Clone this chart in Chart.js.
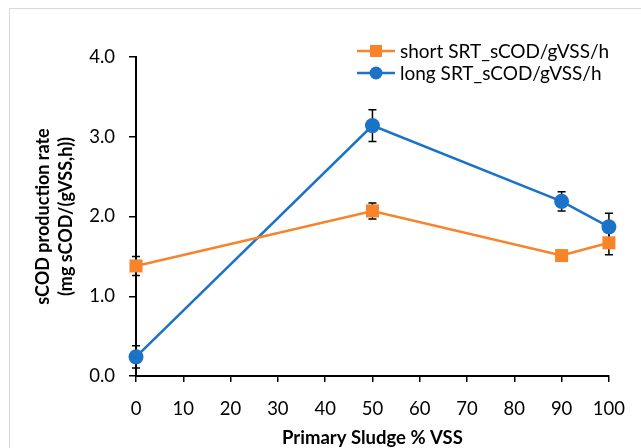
<!DOCTYPE html>
<html lang="en">
<head>
  <meta charset="UTF-8" />
  <title>sCOD production rate</title>
  <script src="https://cdn.jsdelivr.net/npm/chart.js"></script>
  <style>
    html, body {
      margin: 0;
      padding: 0;
      background-color: #fff;
      overflow: hidden;
    }
    .frame {
      position: absolute;
      left: 9px;
      top: 8px;
      width: 800px;
      height: 800px;
      border: 1px solid #d9d9d9;
    }
    .wrap {
      position: absolute;
      left: 0;
      top: 0;
      width: 641px;
      height: 448px;
    }
  </style>
</head>
<body>
  <div class="frame"></div>
  <div class="wrap"><canvas id="chart" width="641" height="448"></canvas></div>

  <script>
    // primary sludge fraction (% VSS)
    const sludgePct = [0, 50, 90, 100];

    const shortSrt = [1.38, 2.07, 1.51, 1.67];
    const shortSrtErr = [0.12, 0.10, 0.03, 0.15];

    const longSrt = [0.24, 3.14, 2.19, 1.87];
    const longSrtErr = [0.14, 0.20, 0.12, 0.17];

    const seriesNames = ['short SRT_sCOD/gVSS/h', 'long SRT_sCOD/gVSS/h'];

    const orange = '#F7832A';
    const blue = '#1B73C8';
    const fontFamily = "Lato, 'Noto Sans', sans-serif";

    function toPoints(xs, ys, errs) {
      return xs.map((x, i) => ({ x: x, y: ys[i], err: errs[i] }));
    }

    // black error bars with caps, drawn under the markers
    const errorBars = {
      id: 'errorBars',
      beforeDatasetsDraw(chart) {
        const ctx = chart.ctx;
        const yScale = chart.scales.y;
        const xScale = chart.scales.x;
        ctx.save();
        ctx.strokeStyle = '#000';
        ctx.lineWidth = 1.5;
        chart.data.datasets.forEach(ds => {
          ds.data.forEach(p => {
            const px = xScale.getPixelForValue(p.x);
            const top = yScale.getPixelForValue(p.y + p.err);
            const bot = yScale.getPixelForValue(p.y - p.err);
            ctx.beginPath();
            ctx.moveTo(px, top);
            ctx.lineTo(px, bot);
            ctx.moveTo(px - 4, top);
            ctx.lineTo(px + 4, top);
            ctx.moveTo(px - 4, bot);
            ctx.lineTo(px + 4, bot);
            ctx.stroke();
          });
        });
        ctx.restore();
      }
    };

    // Excel-like legend: line with marker, then text
    const lineLegend = {
      id: 'lineLegend',
      afterDraw(chart) {
        const ctx = chart.ctx;
        const x0 = 357, x1 = 395, tx = 400;
        const rows = [51, 73];
        ctx.save();
        ctx.font = '19px ' + fontFamily;
        ctx.textBaseline = 'middle';
        ctx.textAlign = 'left';
        chart.data.datasets.forEach((ds, i) => {
          const y = rows[i];
          ctx.strokeStyle = ds.borderColor;
          ctx.lineWidth = 2.5;
          ctx.beginPath();
          ctx.moveTo(x0, y);
          ctx.lineTo(x1, y);
          ctx.stroke();
          ctx.fillStyle = ds.borderColor;
          const cx = (x0 + x1) / 2;
          if (ds.pointStyle === 'rect') {
            ctx.fillRect(cx - 6, y - 6, 12, 12);
          } else {
            ctx.beginPath();
            ctx.arc(cx, y, 6.5, 0, Math.PI * 2);
            ctx.fill();
          }
          ctx.fillStyle = '#000';
          ctx.fillText(ds.label, tx, y + 1);
        });
        ctx.restore();
      }
    };

    const ctx = document.getElementById('chart').getContext('2d');

    new Chart(ctx, {
      type: 'line',
      data: {
        datasets: [
          {
            label: seriesNames[0],
            data: toPoints(sludgePct, shortSrt, shortSrtErr),
            borderColor: orange,
            backgroundColor: orange,
            borderWidth: 2.5,
            pointStyle: 'rect',
            pointRadius: 9.2,
            pointBorderWidth: 0,
            tension: 0,
            clip: false
          },
          {
            label: seriesNames[1],
            data: toPoints(sludgePct, longSrt, longSrtErr),
            borderColor: blue,
            backgroundColor: blue,
            borderWidth: 2.5,
            pointStyle: 'circle',
            pointRadius: 7.5,
            pointBorderWidth: 0,
            tension: 0,
            clip: false
          }
        ]
      },
      options: {
        responsive: false,
        animation: false,
        layout: {
          padding: { left: 10, top: 57, right: 32, bottom: 0 }
        },
        plugins: {
          legend: { display: false },
          tooltip: { enabled: false }
        },
        scales: {
          x: {
            type: 'linear',
            min: 0,
            max: 100,
            afterFit: s => { s.height = 72; },
            border: { display: true, color: '#000', width: 2 },
            grid: {
              drawOnChartArea: false,
              drawTicks: true,
              tickLength: 6,
              color: '#000',
              lineWidth: 1.5
            },
            ticks: {
              stepSize: 10,
              padding: 16,
              maxRotation: 0,
              color: '#000',
              font: { family: fontFamily, size: 18.5 }
            },
            title: {
              display: true,
              text: 'Primary Sludge % VSS',
              color: '#000',
              padding: { top: 0, bottom: 0 },
              font: { family: fontFamily, size: 18.5, weight: 'bold', lineHeight: 1.1 }
            }
          },
          y: {
            min: 0,
            max: 4,
            afterFit: s => { s.width = 126; },
            border: { display: true, color: '#000', width: 2 },
            grid: {
              drawOnChartArea: false,
              drawTicks: true,
              tickLength: 7,
              color: '#000',
              lineWidth: 1.5
            },
            ticks: {
              stepSize: 1,
              padding: 14,
              color: '#000',
              font: { family: fontFamily, size: 18.5 },
              callback: v => v.toFixed(1)
            },
            title: {
              display: true,
              text: ['sCOD production rate', '(mg sCOD/(gVSS,h))'],
              color: '#000',
              padding: { top: 22, bottom: 0 },
              font: { family: fontFamily, size: 18, weight: 'bold', lineHeight: 1.28 }
            }
          }
        }
      },
      plugins: [errorBars, lineLegend]
    });
  </script>
</body>
</html>
